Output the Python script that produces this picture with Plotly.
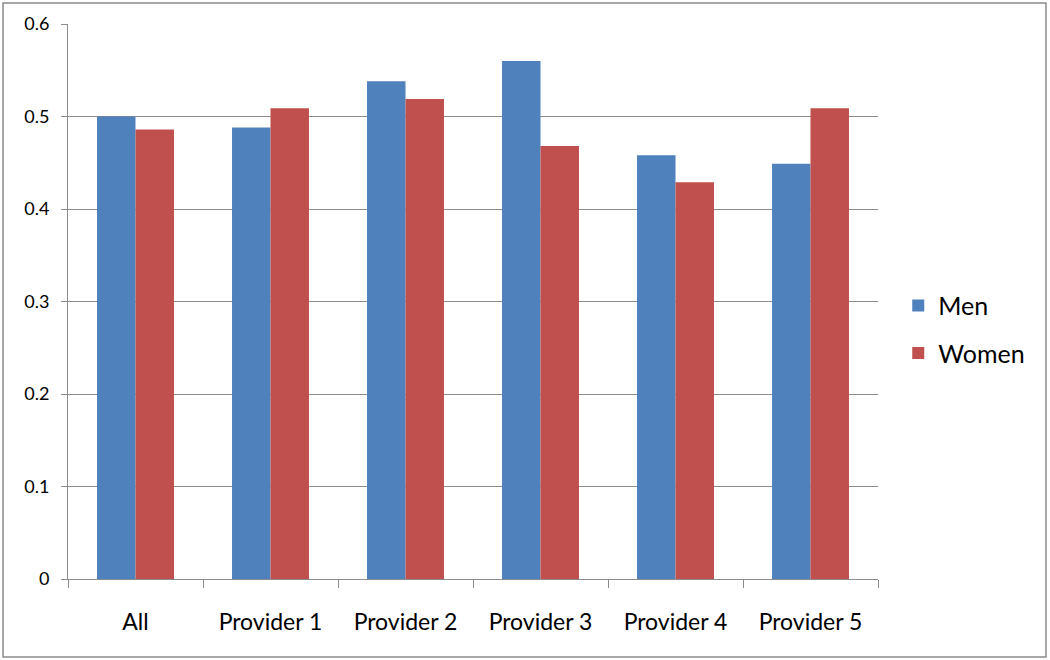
import plotly.graph_objects as go

categories = ["All", "Provider 1", "Provider 2", "Provider 3", "Provider 4", "Provider 5"]
men = [0.500, 0.488, 0.538, 0.560, 0.458, 0.449]
women = [0.486, 0.509, 0.519, 0.468, 0.429, 0.509]

fig = go.Figure()
fig.add_trace(go.Bar(name="Men", x=categories, y=men, legendgroup="m",
                     marker=dict(color="#4F81BD", line=dict(width=0))))
fig.add_trace(go.Bar(name="Women", x=categories, y=women, legendgroup="w",
                     marker=dict(color="#C0504D", line=dict(width=0))))

fig.update_layout(
    width=1050, height=660,
    margin=dict(l=68, r=172, t=24, b=81),
    paper_bgcolor="white", plot_bgcolor="white",
    barmode="group", bargap=0.43, bargroupgap=0,
    font=dict(family="Lato, Carlito, Arial", color="#000000"),
    legend=dict(x=1.025, y=0.45, xanchor="left", yanchor="middle",
                font=dict(size=25), tracegroupgap=12, traceorder="grouped"),
    showlegend=True,
)
fig.update_yaxes(range=[0, 0.6], dtick=0.1, showgrid=True, gridcolor="#8c8c8c", gridwidth=1,
                 showline=True, linecolor="#8c8c8c", ticks="outside", ticklen=6, tickcolor="#8c8c8c",
                 tickfont=dict(size=18), zeroline=False, tickformat="~g", ticklabelstandoff=8)
fig.update_xaxes(showline=True, linecolor="#8c8c8c", ticks="outside", ticklen=8, tickcolor="#8c8c8c",
                 tickson="boundaries", tickfont=dict(size=23), showgrid=False, ticklabelstandoff=22)

fig.add_shape(type="rect", xref="paper", yref="paper", x0=-0.0802, x1=1.2074, y0=-0.1405, y1=1.0378,
              line=dict(color="#8c8c8c", width=1.5), fillcolor="rgba(0,0,0,0)", layer="below")

fig.write_html("out.html")
